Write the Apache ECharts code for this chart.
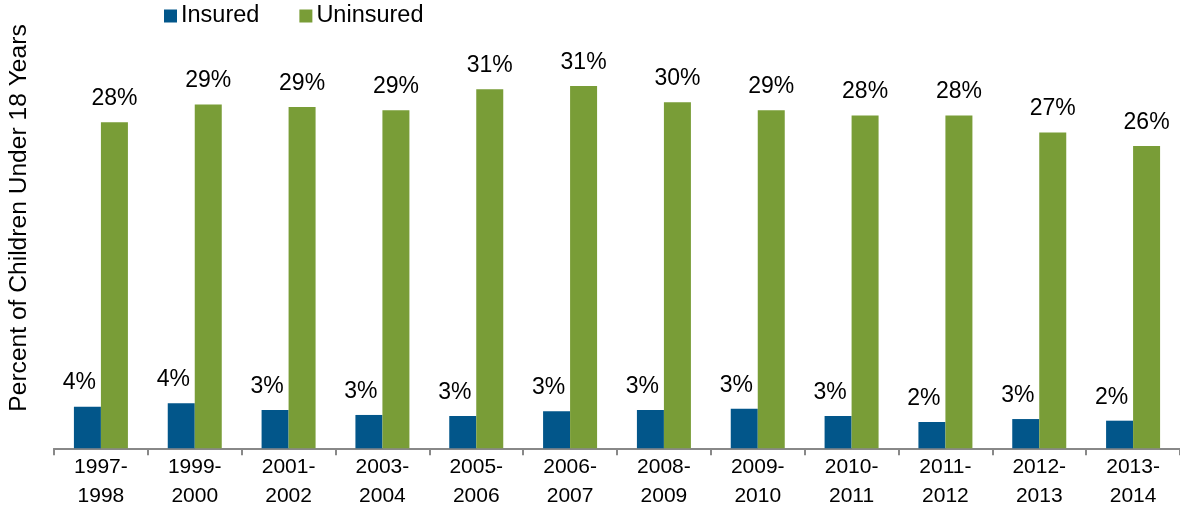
<!DOCTYPE html>
<html>
<head>
<meta charset="utf-8">
<script src="https://cdn.jsdelivr.net/npm/echarts@6/dist/echarts.min.js"></script>
<style>
html,body{margin:0;padding:0;background:#fff;}
#chart{width:1180px;height:512px;}
</style>
</head>
<body>
<div id="chart"></div>
<script>
var categories = ['1997-\n1998','1999-\n2000','2001-\n2002','2003-\n2004','2005-\n2006','2006-\n2007','2008-\n2009','2009-\n2010','2010-\n2011','2011-\n2012','2012-\n2013','2013-\n2014'];
var insured = [3.56, 3.85, 3.27, 2.85, 2.76, 3.16, 3.27, 3.38, 2.76, 2.25, 2.5, 2.36];
var uninsured = [27.86, 29.38, 29.17, 28.89, 30.68, 30.97, 29.57, 28.89, 28.45, 28.45, 27.0, 25.84];
var yAxisTitle = 'Percent of Children Under 18 Years';

var FONT = '"Liberation Sans", Arial, sans-serif';
var chart = echarts.init(document.getElementById('chart'), null, {renderer: 'canvas'});
function pct(p){ return Math.round(p.value) + '%'; }
chart.setOption({
  animation: false,
  backgroundColor: '#ffffff',
  textStyle: {fontFamily: FONT},
  legend: {
    left: 164, top: 4, padding: 0,
    itemWidth: 13, itemHeight: 13, itemGap: 40,
    icon: 'rect',
    textStyle: {fontSize: 23.5, color: '#000', fontFamily: FONT, padding: [0,0,0,-1]},
    data: ['Insured','Uninsured']
  },
  graphic: [{
    type: 'text',
    x: 19, y: 218,
    rotation: Math.PI / 2,
    style: {
      text: yAxisTitle,
      font: '24.6px ' + FONT,
      fill: '#000',
      textAlign: 'center',
      textVerticalAlign: 'middle'
    }
  }],
  grid: {left: 54, right: -6, top: 38.8, bottom: 63.7, containLabel: false},
  xAxis: {
    type: 'category',
    data: categories,
    axisLine: {lineStyle: {color: '#888888', width: 2}},
    axisTick: {show: true, length: 7, lineStyle: {color: '#888888', width: 2}},
    axisLabel: {fontSize: 21, color: '#000', fontFamily: FONT, lineHeight: 29, margin: 4, interval: 0}
  },
  yAxis: {
    type: 'value', min: 0, max: 35, show: false,
    splitLine: {show: false}
  },
  series: [{
    name: 'Insured', type: 'bar', data: insured,
    barWidth: 27, barGap: '0%',
    itemStyle: {color: '#02568a'},
    label: {show: true, position: 'top', distance: 12, offset: [-8, 0], fontSize: 23, color: '#000', fontFamily: FONT, formatter: pct}
  }, {
    name: 'Uninsured', type: 'bar', data: uninsured,
    barWidth: 27, barGap: '0%',
    itemStyle: {color: '#799d37'},
    label: {show: true, position: 'top', distance: 12, fontSize: 23, color: '#000', fontFamily: FONT, formatter: pct}
  }]
});
</script>
</body>
</html>
